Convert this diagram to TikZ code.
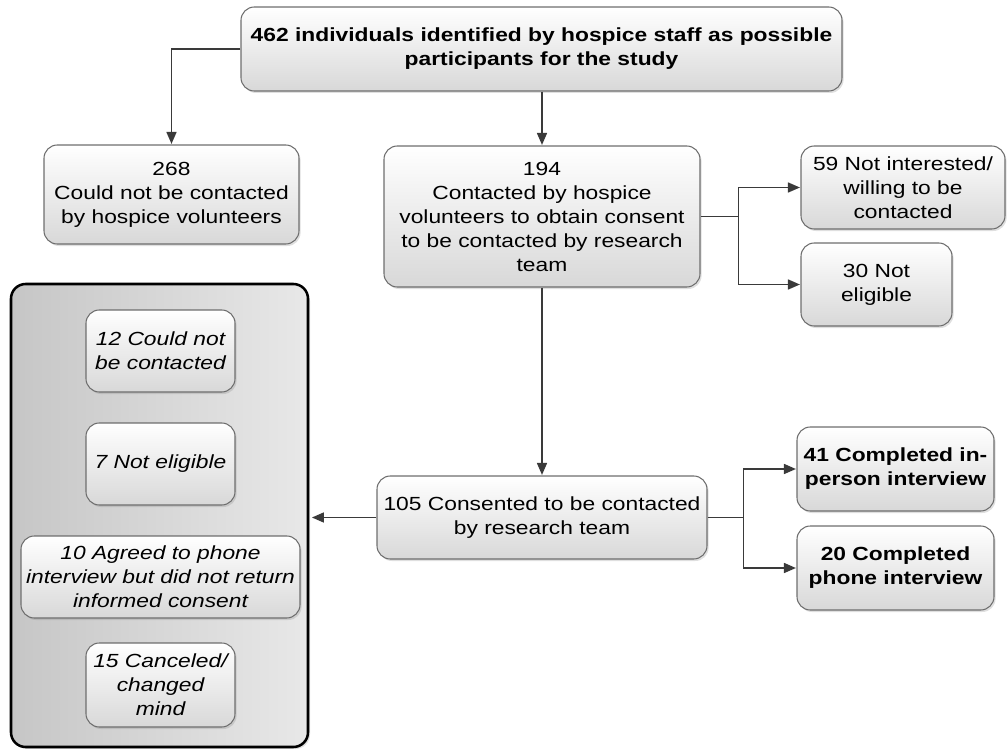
\documentclass[tikz,border=0pt]{standalone}
\usepackage{fontspec}
\setmainfont[FakeStretch=1.2]{Liberation Sans}
\usetikzlibrary{arrows.meta,shadows,calc}
\definecolor{bordergray}{HTML}{6E6E6E}
\definecolor{boxgray}{HTML}{D8D8D8}
\definecolor{arrowgray}{HTML}{3A3A3A}
\definecolor{grpleft}{HTML}{C6C6C6}
\definecolor{grpright}{HTML}{E8E8E8}
\newcommand{\boxfont}{\fontsize{14.25pt}{18pt}\selectfont}
\begin{document}
\begin{tikzpicture}[x=0.75pt,y=-0.75pt,
  wh/.style 2 args={minimum width={#1*0.75pt}, minimum height={#2*0.75pt}},
  box/.style={draw=bordergray, line width=0.8pt, rounded corners=10pt,
    top color=white, bottom color=boxgray, align=center, inner sep=0pt,
    font=\boxfont,
    drop shadow={opacity=0.25, shadow xshift=1.2pt, shadow yshift=-1.5pt, fill=gray}},
  boldbox/.style={box, font=\boxfont\bfseries},
  itbox/.style={box, font=\boxfont\itshape},
  grpbox/.style={draw=black, line width=1.9pt, rounded corners=11pt,
    left color=grpleft, right color=grpright, inner sep=0pt,
    drop shadow={opacity=0.25, shadow xshift=1.5pt, shadow yshift=-1.5pt, fill=gray}},
  link/.style={draw=arrowgray, line width=1.2pt},
  conn/.style={link, -{Triangle[length=9pt,width=7.5pt]}, shorten >=0.4pt}
]
\useasboundingbox (0,0) rectangle (1008,749);

% main column
\node[boldbox, wh={601}{84}] (top) at (541.5,49)
  {462 individuals identified by hospice staff as possible\\participants for the study};
\node[box, wh={255}{99}] (n268) at (171.5,194.5)
  {268\\Could not be contacted\\by hospice volunteers};
\node[box, wh={316}{141}] (n194) at (542,216.5)
  {194\\Contacted by hospice\\volunteers to obtain consent\\to be contacted by research\\team};
\node[box, wh={204}{83}] (n59) at (903,187.5)
  {59 Not interested/\\willing to be\\contacted};
\node[box, wh={151}{83}] (n30) at (876.5,284.5)
  {30 Not\\eligible};
\node[box, wh={330}{83}] (n105) at (542,517.5)
  {105 Consented to be contacted\\by research team};
\node[boldbox, wh={197}{84}] (n41) at (895.5,469)
  {41 Completed in-\\person interview};
\node[boldbox, wh={197}{84}] (n20) at (895.5,568)
  {20 Completed\\phone interview};

% group of losses
\node[grpbox, wh={297}{463}] (grp) at (159.5,515.5) {};
\node[itbox, wh={149}{82}] (n12) at (160.5,351) {12 Could not\\be contacted};
\node[itbox, wh={149}{82}] (n7) at (160.5,464) {7 Not eligible};
\node[itbox, wh={279}{82}] (n10) at (160.5,577)
  {10 Agreed to phone\\interview but did not return\\informed consent};
\node[itbox, wh={149}{84}] (n15) at (160.5,685) {15 Canceled/\\changed\\mind};

% connectors
\draw[conn] (top.west) -| (n268.north);
\draw[conn] (top.south -| n194.north) -- (n194.north);
\coordinate (b1) at ($(n194.east)+(38,0)$);
\draw[link] (n194.east) -- (b1);
\draw[conn] (b1) |- (n59.west);
\draw[conn] (b1) |- (n30.west);
\draw[conn] (n194.south) -- (n105.north);
\draw[conn, shorten >=2pt] (n105.west) -- (n105.west -| grp.east);
\coordinate (b2) at ($(n105.east)+(36,0)$);
\draw[link] (n105.east) -- (b2);
\draw[conn] (b2) |- (n41.west);
\draw[conn] (b2) |- (n20.west);
\end{tikzpicture}
\end{document}
